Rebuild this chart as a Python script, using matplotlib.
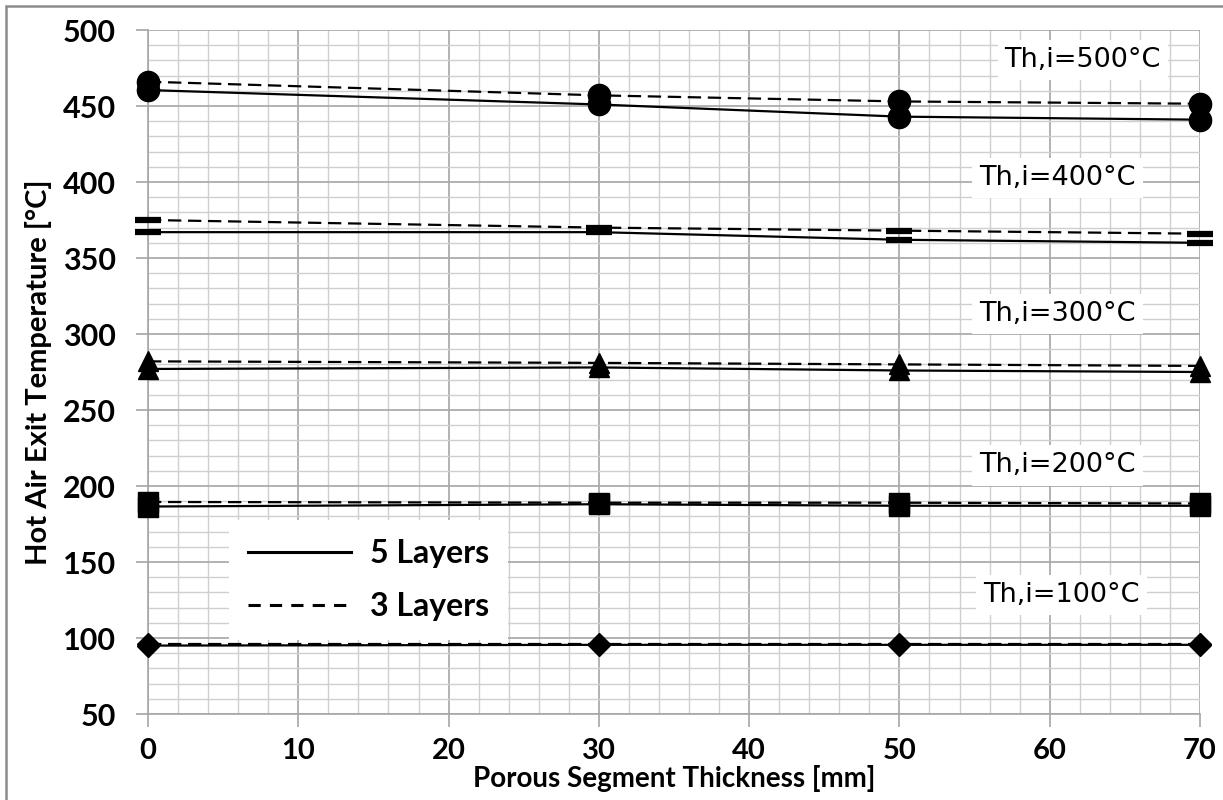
import matplotlib
matplotlib.use('Agg')
import matplotlib.pyplot as plt
from matplotlib.lines import Line2D
from matplotlib.patches import Rectangle
from matplotlib.ticker import MultipleLocator

# Porous segment thickness [mm]
thickness = [0, 30, 50, 70]

# Hot air exit temperature [°C] per inlet temperature
t500_5 = [460.5, 451, 443, 441]
t500_3 = [466, 457, 453, 451.5]
t400_5 = [367, 367, 362, 360]
t400_3 = [375, 370, 368, 366]
t300_5 = [277, 278, 276, 275]
t300_3 = [282, 281, 280, 279]
t200_5 = [186.5, 188, 187, 187]
t200_3 = [189.5, 189, 189, 188.5]
t100_5 = [95, 95.5, 95.5, 95.5]
t100_3 = [96, 96, 96, 96]

inlet_labels = ['Th,i=500°C', 'Th,i=400°C', 'Th,i=300°C', 'Th,i=200°C', 'Th,i=100°C']
label_x = [62.2, 60.5, 60.5, 60.5, 60.8]
label_y = [480, 402.5, 313, 213.5, 128]

series = [
    (t500_5, t500_3, dict(marker='o', markersize=16)),
    (t400_5, t400_3, dict(marker='_', markersize=19, markeredgewidth=4.5)),
    (t300_5, t300_3, dict(marker='^', markersize=15)),
    (t200_5, t200_3, dict(marker='s', markersize=14)),
    (t100_5, t100_3, dict(marker='D', markersize=11)),
]

plt.rcParams['font.family'] = ['Lato', 'DejaVu Sans']
plt.rcParams['font.weight'] = 'bold'
plt.rcParams['axes.labelweight'] = 'bold'

fig = plt.figure(figsize=(12.23, 8), dpi=100)
ax = fig.add_axes([148 / 1223, 1 - 714 / 800, 1052 / 1223, 684 / 800])

for solid, dashed, mk in series:
    ax.plot(thickness, dashed, color='black', linestyle=(0, (6, 3)), linewidth=1.6,
            markerfacecolor='black', markeredgecolor='black', clip_on=False, zorder=4, **mk)
    ax.plot(thickness, solid, color='black', linestyle='-', linewidth=1.6,
            markerfacecolor='black', markeredgecolor='black', clip_on=False, zorder=4, **mk)

for txt, lx, ly in zip(inlet_labels, label_x, label_y):
    ax.text(lx, ly, txt, ha='center', va='center', fontsize=19.5, family='DejaVu Sans',
            fontweight='normal', zorder=3,
            bbox=dict(facecolor='white', edgecolor='none', pad=5))

ax.set_xlim(0, 70)
ax.set_ylim(50, 500)
ax.xaxis.set_major_locator(MultipleLocator(10))
ax.xaxis.set_minor_locator(MultipleLocator(2))
ax.yaxis.set_major_locator(MultipleLocator(50))
ax.yaxis.set_minor_locator(MultipleLocator(10))
ax.grid(which='major', color='#a6a6a6', linewidth=1.2, zorder=0)
ax.grid(which='minor', color='#cfcfcf', linewidth=1.0, zorder=0)
ax.set_axisbelow(True)
for side in ['top', 'right']:
    ax.spines[side].set_visible(False)
for side in ['left', 'bottom']:
    ax.spines[side].set_color('#a6a6a6')
    ax.spines[side].set_linewidth(1.2)
ax.tick_params(which='major', length=9, width=1.2, color='#a6a6a6')
ax.tick_params(axis='x', which='major', pad=8, labelsize=21)
ax.tick_params(axis='y', which='major', pad=14, labelsize=22)
ax.tick_params(which='minor', length=0)

ax.set_xlabel('Porous Segment Thickness [mm]', fontsize=20, labelpad=1)
ax.set_ylabel('Hot Air Exit Temperature [°C]', fontsize=21, labelpad=8)

handles = [Line2D([], [], color='black', linestyle='-', linewidth=2.2),
           Line2D([], [], color='black', linestyle=(0, (4, 3)), linewidth=2.2)]
leg = ax.legend(handles, ['5 Layers', '3 Layers'], loc='upper left',
                bbox_to_anchor=(0.062, 0.307), frameon=True, fancybox=False,
                framealpha=1, facecolor='white', edgecolor='none',
                handlelength=3.2, handletextpad=0.6, labelspacing=0.75,
                borderpad=0.6, prop={'weight': 'bold', 'size': 23})
leg.set_zorder(5)

# outer frame
fig.patches.append(Rectangle((6 / 1223, -0.05), 1.2, 1 - 6 / 800 + 0.05,
                             transform=fig.transFigure, fill=False,
                             edgecolor='#8c8c8c', linewidth=1.8))

fig.savefig('out.png', dpi=100)
